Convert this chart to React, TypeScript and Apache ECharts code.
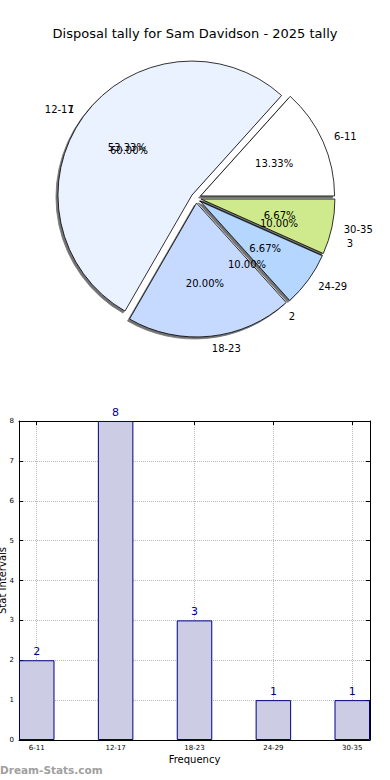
import React, { useEffect, useRef } from "react";
import * as echarts from "echarts";

const titleText = "Disposal tally for Sam Davidson - 2025 tally";
const categories = ["6-11", "12-17", "18-23", "24-29", "30-35"];
const counts = [2, 8, 3, 1, 1];
const pieColors = ["#ffffff", "#ebf2ff", "#c6d9ff", "#b4d6ff", "#cfea8c"];
const yTicks = [0, 1, 2, 3, 4, 5, 6, 7, 8];
// stray overlapping labels printed in the reference pie
const ghostNames = ["1", "2", "3"];
const ghostPercents = ["60.00%", "10.00%", "10.00%"];

const FONT = "DejaVu Sans";

export default function App() {
  const ref = useRef<HTMLDivElement>(null);
  useEffect(() => {
    if (!ref.current) return;
    const chart = echarts.init(ref.current, undefined, { renderer: "svg" });
    const center = [196, 198];
    const pieData = categories.map((c, i) => ({
      name: c,
      value: counts[i],
      selected: true,
      itemStyle: { color: pieColors[i] },
    }));
    const ghostStyle = { fontFamily: FONT, fontSize: 10, fill: "#000", verticalAlign: "middle" };
    const option: any = {
      animation: false,
      backgroundColor: "#ffffff",
      title: {
        text: titleText,
        left: "center",
        top: 22,
        textStyle: { fontFamily: FONT, fontSize: 13, fontWeight: "normal", color: "#000" },
      },
      grid: { left: 19, top: 421, right: 20, bottom: 40, containLabel: false, outerBoundsMode: "none" },
      xAxis: [
        {
          type: "value",
          min: -0.225,
          max: 4.225,
          splitNumber: 5,
          name: "Frequency",
          nameLocation: "middle",
          nameGap: 14,
          nameMoveOverlap: false,
          nameTextStyle: { fontFamily: FONT, fontSize: 10, color: "#000" },
          axisLine: { show: true, onZero: false, lineStyle: { color: "#000", width: 1 } },
          axisTick: { show: true, inside: true, length: 4, lineStyle: { color: "#000" } },
          axisLabel: {
            fontFamily: FONT,
            fontSize: 7,
            color: "#000",
            margin: 4,
            showMinLabel: false,
            showMaxLabel: false,
            formatter: (v: number) => (Number.isInteger(v) && categories[v] ? categories[v] : ""),
          },
          splitLine: { show: true, lineStyle: { type: "dotted", color: "#bbbbbb", width: 1 } },
        },
        {
          type: "value",
          position: "top",
          min: -0.225,
          max: 4.225,
          splitNumber: 5,
          axisLine: { show: true, onZero: false, lineStyle: { color: "#000", width: 1 } },
          axisTick: { show: true, inside: true, length: 4, lineStyle: { color: "#000" } },
          axisLabel: { show: false },
          splitLine: { show: false },
        },
      ],
      yAxis: [
        {
          type: "value",
          min: 0,
          max: 8,
          interval: 1,
          name: "Stat Intervals",
          nameLocation: "middle",
          nameGap: 12,
          nameMoveOverlap: false,
          nameTextStyle: { fontFamily: FONT, fontSize: 10, color: "#000" },
          axisLine: { show: true, onZero: false, lineStyle: { color: "#000", width: 1 } },
          axisTick: { show: true, inside: true, length: 4, lineStyle: { color: "#000" } },
          axisLabel: { fontFamily: FONT, fontSize: 7, color: "#000", margin: 5, formatter: (v: number) => (yTicks.includes(v) ? String(v) : "") },
          splitLine: { show: true, lineStyle: { type: "dotted", color: "#bbbbbb", width: 1 } },
        },
        {
          type: "value",
          position: "right",
          min: 0,
          max: 8,
          interval: 1,
          axisLine: { show: true, onZero: false, lineStyle: { color: "#000", width: 1 } },
          axisTick: { show: true, inside: true, length: 4, lineStyle: { color: "#000" } },
          axisLabel: { show: false },
          splitLine: { show: false },
        },
      ],
      series: [
        {
          type: "pie",
          center,
          radius: 134,
          startAngle: 0,
          clockwise: false,
          selectedMode: "multiple",
          selectedOffset: 5,
          avoidLabelOverlap: false,
          itemStyle: {
            borderColor: "#000",
            borderWidth: 0.8,
            shadowColor: "rgba(0,0,0,0.55)",
            shadowOffsetX: -2,
            shadowOffsetY: 2,
            shadowBlur: 1,
          },
          select: { itemStyle: { borderColor: "#000", borderWidth: 0.8 } },
          emphasis: { disabled: true },
          label: {
            show: true,
            position: "outside",
            formatter: "{b}",
            fontFamily: FONT,
            fontSize: 10,
            color: "#000",
            distanceToLabelLine: 0,
          },
          labelLine: { show: false, length: 12, length2: 0 },
          data: pieData,
          z: 2,
        },
        {
          type: "pie",
          center,
          radius: [25, 130],
          startAngle: 0,
          clockwise: false,
          selectedMode: "multiple",
          selectedOffset: 5,
          avoidLabelOverlap: false,
          silent: true,
          itemStyle: { color: "rgba(0,0,0,0)", borderWidth: 0 },
          select: { itemStyle: { color: "rgba(0,0,0,0)", borderWidth: 0 } },
          emphasis: { disabled: true },
          label: {
            show: true,
            position: "inside",
            formatter: (p: any) => p.percent.toFixed(2) + "%",
            fontFamily: FONT,
            fontSize: 10,
            color: "#000",
          },
          labelLine: { show: false },
          data: categories.map((c, i) => ({ name: c, value: counts[i], selected: true })),
          z: 3,
        },
        {
          type: "bar",
          xAxisIndex: 0,
          yAxisIndex: 0,
          barWidth: 35.5,
          data: counts.map((v, i) => [i, v]),
          itemStyle: { color: "#ccccE5", borderColor: "#000080", borderWidth: 1 },
          label: {
            show: true,
            position: "top",
            distance: 3,
            fontFamily: FONT,
            fontSize: 11,
            color: "#00008b",
          },
          emphasis: { disabled: true },
        },
      ],
      graphic: [
        { type: "text", left: 0, top: 764, z: 100, style: { text: "Dream-Stats.com", fontFamily: FONT, fontSize: 10.5, fontWeight: "bold", fill: "#a0a0a0" } },
        { type: "text", x: 74, y: 109, z: 100, style: { ...ghostStyle, text: ghostNames[0], align: "right" } },
        { type: "text", x: 129, y: 150, z: 100, style: { ...ghostStyle, text: ghostPercents[0], align: "center" } },
        { type: "text", x: 292, y: 316, z: 100, style: { ...ghostStyle, text: ghostNames[1], align: "center" } },
        { type: "text", x: 247, y: 264, z: 100, style: { ...ghostStyle, text: ghostPercents[1], align: "center" } },
        { type: "text", x: 350, y: 243, z: 100, style: { ...ghostStyle, text: ghostNames[2], align: "center" } },
        { type: "text", x: 279, y: 223, z: 100, style: { ...ghostStyle, text: ghostPercents[2], align: "center" } },
      ],
    };
    chart.setOption(option);
    return () => chart.dispose();
  }, []);
  return (
    <div
      ref={ref}
      style={{ position: "fixed", left: 0, top: 0, width: 390, height: 780, background: "#fff" }}
    />
  );
}
